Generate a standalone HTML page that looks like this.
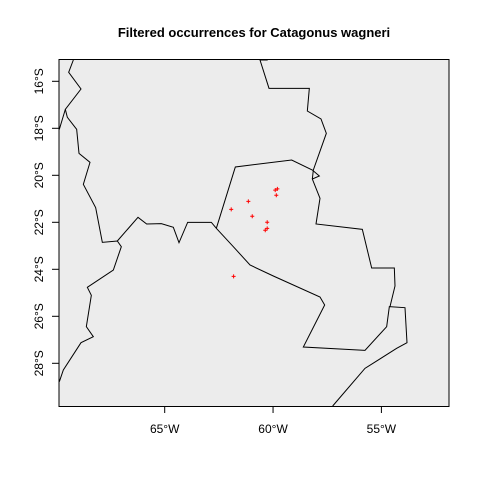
<!DOCTYPE html>
<html><head><meta charset="utf-8"><style>
body{margin:0;background:#fff;}
svg{display:block;font-family:"Liberation Sans",Arial,sans-serif;}
</style></head><body>
<svg width="480" height="480" viewBox="0 0 480 480">
<text x="254" y="37" text-anchor="middle" font-size="13" font-weight="bold">Filtered occurrences for Catagonus wagneri</text>
<rect x="59" y="59.5" width="390" height="347" fill="#ececec" stroke="none"/>
<g transform="translate(0,40) scale(0.3333333)" fill="none" stroke="#000" stroke-width="3">
<polyline points="220,60 206,97 243,147 196,208 178,268"/>
<polyline points="196,208 202,232 230,268 237,340 270,367 250,433 287,503 307,607 352,603 364,620 340,690 262,742 274,766 259,860 280,890 243,908 190,990 178,1025"/>
<polyline points="352,603 414,532 440,552 484,551 520,562 537,608 563,547 634,547 649,565 700,620 750,675 820,708 960,771 974,795 910,921 1095,931 1160,860 1168,800 1215,803 1221,908 1190,925 1095,985 998,1098"/>
<polyline points="649,565 706,381 875,360 937,390 958,408 937,417 960,475 948,552 1087,568 1115,684 1183,684 1185,738 1170,800"/>
<polyline points="803,60 780,60 807,145 928,145 922,213 963,237 979,280 940,390 937,417"/>
</g>
<g id="pts"></g>
<g id="axes"></g>
<rect x="59" y="59.5" width="390" height="347" fill="none" stroke="#000" stroke-width="1"/>
</svg>
<script>
const lons = [-59.90,-59.80,-59.85,-61.14,-61.93,-60.96,-60.27,-60.27,-60.36,-61.82];
const lats = [-20.63,-20.58,-20.85,-21.11,-21.45,-21.74,-22.00,-22.26,-22.34,-24.30];
const xTicks = [-65,-60,-55];
const xTickLabels = ["65°W","60°W","55°W"];
const yTicks = [-16,-18,-20,-22,-24,-26,-28];
const yTickLabels = ["16°S","18°S","20°S","22°S","24°S","26°S","28°S"];
const NS="http://www.w3.org/2000/svg";
function xs(lon){return 164.7+(lon+65)*21.67;}
function ys(lat){return 81.3+(-16-lat)*23.5;}
const pts=document.getElementById('pts');
for(let i=0;i<lons.length;i++){
  const x=xs(lons[i]),y=ys(lats[i]);
  const p=document.createElementNS(NS,'path');
  p.setAttribute('d',`M${x-2},${y}H${x+2}M${x},${y-2}V${y+2}`);
  p.setAttribute('stroke','#ff0000');p.setAttribute('stroke-width','1');
  
  
  pts.appendChild(p);
}
const ax=document.getElementById('axes');
xTicks.forEach((v,i)=>{
  const x=xs(v);
  const l=document.createElementNS(NS,'line');
  l.setAttribute('x1',x);l.setAttribute('x2',x);l.setAttribute('y1',406.5);l.setAttribute('y2',413);
  l.setAttribute('stroke','#000');
  
  
  ax.appendChild(l);
  const t=document.createElementNS(NS,'text');
  t.setAttribute('x',x);t.setAttribute('y',433);t.setAttribute('text-anchor','middle');t.setAttribute('font-size','12');
  t.textContent=xTickLabels[i];
  
  
  ax.appendChild(t);
});
yTicks.forEach((v,i)=>{
  const y=ys(v);
  const l=document.createElementNS(NS,'line');
  l.setAttribute('x1',52);l.setAttribute('x2',59);l.setAttribute('y1',y);l.setAttribute('y2',y);
  l.setAttribute('stroke','#000');
  
  
  ax.appendChild(l);
  const t=document.createElementNS(NS,'text');
  t.setAttribute('x',0);t.setAttribute('y',0);t.setAttribute('text-anchor','middle');t.setAttribute('font-size','12');
  t.setAttribute('transform',`translate(43,${y}) rotate(-90)`);
  t.textContent=yTickLabels[i];
  
  
  ax.appendChild(t);
});
</script>
</body></html>
